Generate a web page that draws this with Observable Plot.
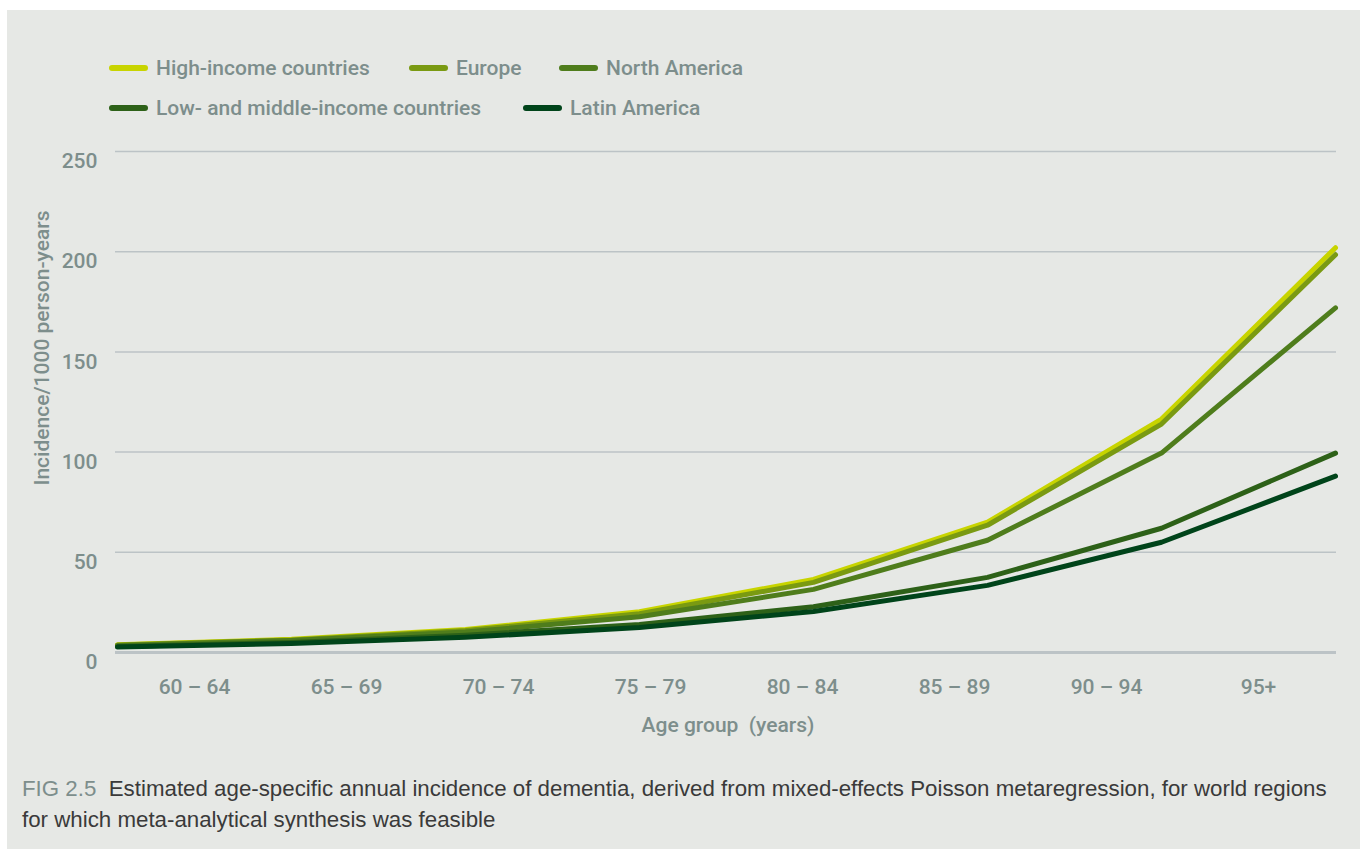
<!DOCTYPE html>
<html>
<head>
<meta charset="utf-8">
<script src="https://cdn.jsdelivr.net/npm/d3@7"></script>
<script src="https://cdn.jsdelivr.net/npm/@observablehq/plot@0.6"></script>
<style>
  html, body { margin: 0; padding: 0; background: #ffffff; }
  #page { position: relative; width: 1360px; height: 849px; overflow: hidden; }
  #panel { position: absolute; left: 7px; top: 10px; width: 1353px; height: 839px; background: #e6e8e5; }
  .lab { position: absolute; font-family: Roboto, "Liberation Sans", sans-serif; font-weight: 500; color: #7d8e8c; font-size: 21px; white-space: nowrap; }
  .legend-item { position: absolute; height: 24px; display: flex; align-items: center; }
  .sw { width: 39px; height: 6px; border-radius: 3px; margin-right: 8px; }
  #chart, #xaxis { position: absolute; left: 0; top: 0; }
  #caption { position: absolute; left: 22px; top: 773px; font-family: "Liberation Sans", Arial, sans-serif; font-size: 22.3px; line-height: 31px; color: #3a3a3a; white-space: nowrap; }
  #caption b { font-weight: 500; color: #7d8e8c; }
</style>
</head>
<body>
<div id="page">
  <div id="panel"></div>
  <div id="legend"></div>
  <div id="chart"></div>
  <div id="xaxis"></div>
  <div class="lab" id="ytitle" style="left:42px; top:348px; transform: translate(-50%,-50%) rotate(-90deg);">Incidence/1000 person-years</div>
  <div class="lab" id="xtitle" style="left:728px; top:725px; transform: translate(-50%,-50%);">Age group&nbsp; (years)</div>
  <div id="caption"><b>FIG 2.5</b>&nbsp; Estimated age-specific annual incidence of dementia, derived from mixed-effects Poisson metaregression, for world regions<br>for which meta-analytical synthesis was feasible</div>
</div>
<script>
// ---- data ----
const ageGroups = ["60 – 64", "65 – 69", "70 – 74", "75 – 79", "80 – 84", "85 – 89", "90 – 94", "95+"];
const regions = ["High-income countries", "Europe", "North America", "Low- and middle-income countries", "Latin America"];
const regionColors = ["#c8d400", "#7a9a12", "#4f7d1c", "#2d6118", "#00441a"];
const highIncome   = [3.9, 6.6, 11.5, 20.3, 36.5, 65.0, 116.5, 202.0];
const europe       = [3.7, 6.3, 11.0, 19.3, 35.0, 63.5, 114.0, 198.5];
const northAmerica = [3.5, 6.0, 10.2, 17.8, 31.5, 56.0, 99.5, 172.0];
const lowMiddle    = [3.0, 5.0, 8.6, 14.0, 22.8, 37.5, 62.0, 99.5];
const latinAmerica = [2.7, 4.5, 7.6, 12.5, 20.5, 33.5, 55.0, 88.0];
const yTicks = [0, 50, 100, 150, 200, 250];

const seriesValues = [highIncome, europe, northAmerica, lowMiddle, latinAmerica];
const rows = [];
regions.forEach((r, i) => ageGroups.forEach((a, j) => rows.push({region: r, age: a, value: seriesValues[i][j]})));

const W = 1360, H = 849;
const M = {top: 151, right: 24, bottom: 197, left: 115};
const gridColor = "#bcc3c6";
const textColor = "#7d8e8c";
const font = "Roboto, 'Liberation Sans', sans-serif";

const chart = Plot.plot({
  width: W, height: H,
  marginTop: M.top, marginRight: M.right, marginBottom: M.bottom, marginLeft: M.left,
  style: {background: "transparent", fontFamily: font, overflow: "visible"},
  x: {type: "point", domain: ageGroups, padding: 0, axis: null},
  y: {domain: [0, 250], axis: null},
  color: {domain: regions, range: regionColors},
  marks: [
    Plot.ruleY(yTicks.filter(d => d > 0), {stroke: gridColor, strokeWidth: 1.5}),
    Plot.ruleY([0], {stroke: gridColor, strokeWidth: 3}),
    Plot.text(yTicks, {y: d => d, frameAnchor: "left", dx: -18, dy: 10, text: d => String(d), textAnchor: "end", fill: textColor, fontSize: 21, fontWeight: 500}),
    Plot.line(rows, {x: "age", y: "value", z: "region", stroke: "region", strokeWidth: 5, strokeLinecap: "round", strokeLinejoin: "round"})
  ]
});
document.getElementById("chart").appendChild(chart);

const xaxis = Plot.plot({
  width: W, height: H,
  marginTop: M.top, marginRight: M.right, marginBottom: M.bottom, marginLeft: M.left,
  style: {background: "transparent", fontFamily: font, overflow: "visible"},
  x: {type: "band", domain: ageGroups, padding: 0},
  marks: [
    Plot.axisX({tickSize: 0, tickPadding: 27, fontSize: 21, fontWeight: 500, fill: textColor, label: null})
  ]
});
xaxis.style.pointerEvents = "none";
document.getElementById("xaxis").appendChild(xaxis);

// ---- legend ----
const legendPos = [[109, 56], [409, 56], [559, 56], [109, 96], [523, 96]];
const legend = document.getElementById("legend");
regions.forEach((r, i) => {
  const it = document.createElement("div");
  it.className = "legend-item lab";
  it.style.left = legendPos[i][0] + "px";
  it.style.top = legendPos[i][1] + "px";
  it.innerHTML = `<span class="sw" style="background:${regionColors[i]}"></span><span>${r}</span>`;
  legend.appendChild(it);
});
</script>
</body>
</html>
